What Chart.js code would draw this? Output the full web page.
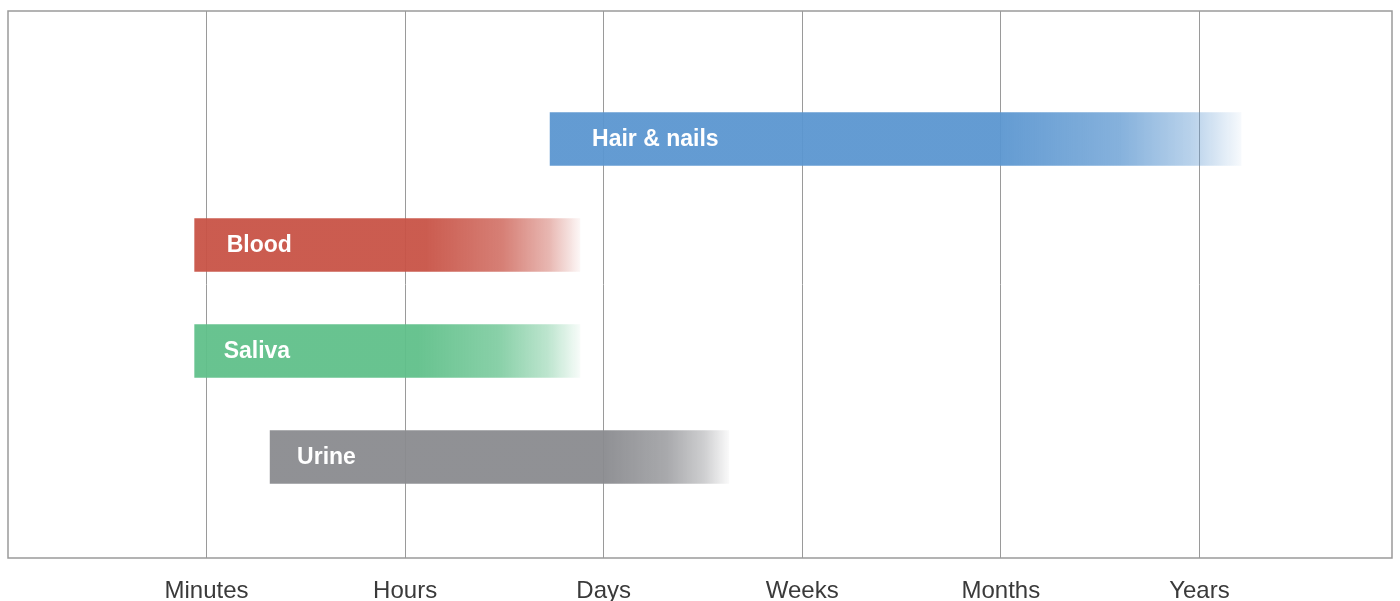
<!DOCTYPE html>
<html>
<head>
<meta charset="utf-8">
<script src="https://cdn.jsdelivr.net/npm/chart.js@4/dist/chart.umd.min.js"></script>
<style>
html,body{margin:0;padding:0;background:#fff;}
#wrap{width:1400px;height:601px;}
</style>
</head>
<body>
<div id="wrap"><canvas id="c" width="1400" height="601"></canvas></div>
<script>
// ---- data ----
const categories = ['Hair & nails', 'Blood', 'Saliva', 'Urine'];
const rowPositions = [4, 3, 2, 1];
const startValues = [2.73, 0.94, 0.94, 1.32];
const endValues = [6.21, 2.88, 2.88, 3.63];
const tickValues = [1, 2, 3, 4, 5, 6];
const tickLabels = ['Minutes', 'Hours', 'Days', 'Weeks', 'Months', 'Years'];

// ---- styles ----
const barColors = [[91,150,208],[200,83,70],[96,192,138],[138,139,143]];
const fadeStart = [0.65, 0.6, 0.58, 0.73];
const labelInset = [42, 32, 29, 27];

const points = categories.map((c, i) => ({ x: [startValues[i], endValues[i]], y: rowPositions[i] }));

function gradFor(ctx) {
  const chart = ctx.chart;
  const i = ctx.dataIndex;
  const col = barColors[i] || [128,128,128];
  if (!chart.chartArea || !chart.scales.x) return `rgba(${col.join(',')},0.95)`;
  const xs = chart.scales.x;
  const x0 = xs.getPixelForValue(startValues[i]);
  const x1 = xs.getPixelForValue(endValues[i]);
  const g = chart.ctx.createLinearGradient(x0, 0, x1, 0);
  const c = col.join(',');
  const f = fadeStart[i];
  g.addColorStop(0, `rgba(${c},0.95)`);
  g.addColorStop(f, `rgba(${c},0.95)`);
  g.addColorStop(f + (1 - f) * 0.5, `rgba(${c},0.74)`);
  g.addColorStop(f + (1 - f) * 0.8, `rgba(${c},0.42)`);
  g.addColorStop(1, `rgba(${c},0.05)`);
  return g;
}

const framePlugin = {
  id: 'frame',
  afterDraw(chart) {
    const a = chart.chartArea, ctx = chart.ctx;
    ctx.save();
    ctx.strokeStyle = '#9a9a9a';
    ctx.lineWidth = 1.5;
    ctx.strokeRect(a.left, a.top, a.right - a.left, a.bottom - a.top);
    ctx.restore();
  }
};

const labelPlugin = {
  id: 'barLabels',
  afterDatasetsDraw(chart) {
    const meta = chart.getDatasetMeta(0);
    const ctx = chart.ctx;
    ctx.save();
    ctx.fillStyle = '#ffffff';
    ctx.font = 'bold 23px "Liberation Sans", Arial, sans-serif';
    ctx.textBaseline = 'middle';
    ctx.textAlign = 'left';
    meta.data.forEach((el, i) => {
      const p = el.getProps(['x', 'y', 'base'], true);
      const left = Math.min(p.x, p.base);
      ctx.fillText(categories[i], left + labelInset[i], p.y + 1);
    });
    ctx.restore();
  }
};

new Chart(document.getElementById('c'), {
  type: 'bar',
  data: {
    datasets: [{
      data: points,
      backgroundColor: gradFor,
      borderWidth: 0,
      borderSkipped: false,
      barThickness: 53
    }]
  },
  options: {
    indexAxis: 'y',
    responsive: false,
    animation: false,
    layout: { padding: { left: 8, right: 8, top: 11, bottom: 0 } },
    plugins: { legend: { display: false }, tooltip: { enabled: false } },
    scales: {
      x: {
        type: 'linear',
        min: 0,
        max: 6.97,
        afterBuildTicks: s => { s.ticks = tickValues.map(v => ({ value: v })); },
        afterFit: s => { s.height = 43; },
        grid: { color: '#9a9a9a', lineWidth: 1, drawTicks: false },
        border: { display: false },
        ticks: {
          padding: 19,
          color: '#3a3a3a',
          font: { family: '"Liberation Sans", Arial, sans-serif', size: 24 },
          callback: (v) => { const k = tickValues.indexOf(v); return k >= 0 ? tickLabels[k] : ''; },
          maxRotation: 0,
          autoSkip: false
        }
      },
      y: {
        type: 'linear',
        display: false,
        offset: false,
        min: 0.047,
        max: 5.208
      }
    }
  },
  plugins: [framePlugin, labelPlugin]
});
</script>
</body>
</html>
